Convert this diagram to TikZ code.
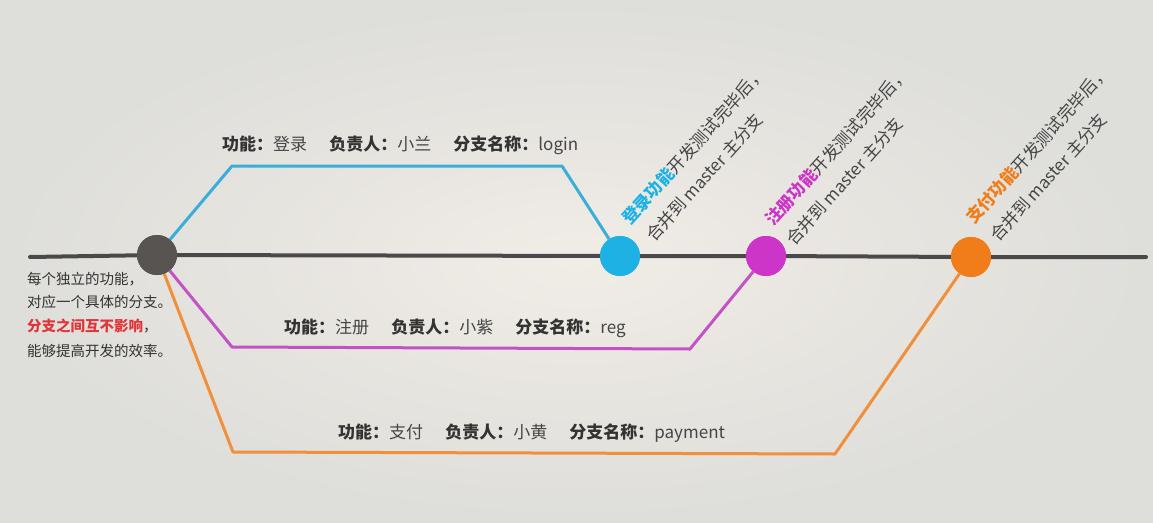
\documentclass[tikz,border=0pt]{standalone}
\usepackage{fontspec}
\setmainfont{Noto Sans CJK SC}
\usetikzlibrary{shadings}
\definecolor{bgc}{HTML}{F1ECE6}
\definecolor{bge}{HTML}{DEDEDA}
\definecolor{mainc}{HTML}{4A4848}
\definecolor{startc}{HTML}{575452}
\definecolor{bluel}{HTML}{3AAED8}
\definecolor{bluec}{HTML}{1EB2E4}
\definecolor{magl}{HTML}{C452C4}
\definecolor{magc}{HTML}{CC35C8}
\definecolor{orgl}{HTML}{F0903C}
\definecolor{orgc}{HTML}{F07C1A}
\definecolor{txt}{HTML}{454545}
\definecolor{txtb}{HTML}{333333}
\definecolor{redt}{HTML}{E0353A}
\tikzset{
  x=1pt,y=-1pt,
  dot/.style={circle,minimum size=40pt,inner sep=0pt},
  branch/.style={line width=3pt,line join=round},
  lbl/.style={anchor=base west,inner sep=0pt,font=\fontsize{17}{19}\selectfont,text=txt},
  rot/.style={anchor=base west,inner sep=0pt,rotate=48,font=\fontsize{17}{19}\selectfont,text=txt},
  note/.style={anchor=base west,inner sep=0pt,font=\fontsize{14.5}{16}\selectfont,text=txtb},
}
\newcommand{\gp}{\hspace{1.3em}}
\newcommand{\bt}[1]{\textbf{\color{txtb}#1}}
\begin{document}
\begin{tikzpicture}
\shade[inner color=bgc,outer color=bge] (0,0) rectangle (1153,522);
\useasboundingbox (0,0) rectangle (1153,522);
% nodes
\coordinate (L) at (30,257);
\coordinate (R) at (1146,257);
\node[dot,fill=startc] (s) at (157,255) {};
\node[dot,fill=bluec] (b) at (620,256) {};
\node[dot,fill=magc] (m) at (766,256) {};
\node[dot,fill=orgc] (o) at (971,257) {};
% waypoints
\coordinate (b1) at (232,166); \coordinate (b2) at (562,166);
\coordinate (m1) at (232,347); \coordinate (m2) at (690,349);
\coordinate (o1) at (233,452); \coordinate (o2) at (835,454);
% main line
\draw[line width=4pt,mainc,line cap=round] (L) -- (s) -- (b) -- (m) -- (o) -- (R);
% branches
\draw[branch,bluel] (s) -- (b1) -- (b2) -- (b);
\draw[branch,magl] (s) -- (m1) -- (m2) -- (m);
\draw[branch,orgl] (s) -- (o1) -- (o2) -- (o);
% redraw dots on top
\node[dot,fill=startc] at (s) {};
\node[dot,fill=bluec] at (b) {};
\node[dot,fill=magc] at (m) {};
\node[dot,fill=orgc] at (o) {};
% labels
\node[lbl] (lb) at (222,150) {\bt{功能：}登录\gp\bt{负责人：}小兰\gp\bt{分支名称：}login};
\node[lbl] (lm) at (284,333) {\bt{功能：}注册\gp\bt{负责人：}小紫\gp\bt{分支名称：}reg};
\node[lbl] (lo) at (338,438) {\bt{功能：}支付\gp\bt{负责人：}小黄\gp\bt{分支名称：}payment};
% rotated notes
\node[rot] (rb1) at (630,226) {\textbf{\color{bluec}登录功能}开发测试完毕后，};
\node[rot] (rb2) at (654,243) {合并到 master 主分支};
\node[rot] (rm1) at (773,227) {\textbf{\color{magc}注册功能}开发测试完毕后，};
\node[rot] (rm2) at (794,247) {合并到 master 主分支};
\node[rot] (ro1) at (974,225) {\textbf{\color{orgc}支付功能}开发测试完毕后，};
\node[rot] (ro2) at (998,243) {合并到 master 主分支};
% left note
\node[note] (n1) at (27,284) {每个独立的功能，};
\node[note] (n2) at (27,307) {对应一个具体的分支。};
\node[note] (n3) at (27,331) {\textbf{\color{redt}分支之间互不影响}，};
\node[note] (n4) at (27,356) {能够提高开发的效率。};
\end{tikzpicture}
\end{document}
